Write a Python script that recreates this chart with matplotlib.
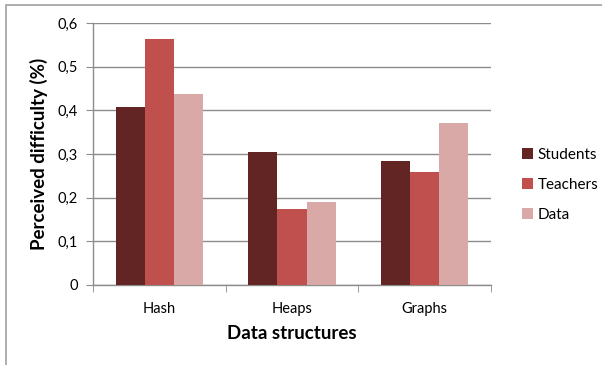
import matplotlib
matplotlib.use("Agg")
import matplotlib.pyplot as plt
import numpy as np
from matplotlib.patches import Rectangle

categories = ["Hash", "Heaps", "Graphs"]
series_names = ["Students", "Teachers", "Data"]
students = [0.408, 0.305, 0.285]
teachers = [0.564, 0.173, 0.259]
data = [0.437, 0.191, 0.371]
y_ticks = [0, 0.1, 0.2, 0.3, 0.4, 0.5, 0.6]
y_tick_labels = ["0", "0,1", "0,2", "0,3", "0,4", "0,5", "0,6"]

colors = ["#632523", "#C0504D", "#D9A9A8"]
grid_col = "#8C8C8C"

plt.rcParams["font.family"] = ["Lato", "DejaVu Sans"]

fig = plt.figure(figsize=(6.02, 3.65), dpi=100)
fig.patches.append(Rectangle((6 / 602, -0.05), 1.2, (365 - 5) / 365 + 0.05,
                             transform=fig.transFigure, fill=False,
                             edgecolor="#A0A0A0", linewidth=1.2))

ax = fig.add_axes([93 / 602, 80 / 365, 398 / 602, 262 / 365])
x = np.arange(len(categories))
w = 0.22
for i, (vals, name) in enumerate(zip([students, teachers, data], series_names)):
    ax.bar(x + (i - 1) * w, vals, width=w, color=colors[i], label=name,
           zorder=3, linewidth=0)

ax.set_xlim(-0.5, len(categories) - 0.5)
ax.set_ylim(0, 0.6)
ax.set_yticks(y_ticks)
ax.set_yticklabels(y_tick_labels, fontsize=10.5)
ax.yaxis.grid(True, color=grid_col, linewidth=1, zorder=0)
ax.set_xticks(x)
ax.set_xticklabels(categories, fontsize=10.5)
ax.set_xticks(np.arange(len(categories) + 1) - 0.5, minor=True)
ax.tick_params(axis="x", which="major", length=0, pad=12)
ax.tick_params(axis="x", which="minor", length=5, color=grid_col, direction="out")
ax.tick_params(axis="y", length=5, color=grid_col, direction="out", pad=6)
for s in ["top", "right"]:
    ax.spines[s].set_visible(False)
for s in ["left", "bottom"]:
    ax.spines[s].set_color(grid_col)
    ax.spines[s].set_linewidth(1)

ax.set_xlabel("Data structures", fontsize=13.5, fontweight="bold", labelpad=7)
ax.set_ylabel("Perceived difficulty (%)", fontsize=13.5, fontweight="bold", labelpad=7)

leg = fig.legend(loc="center left", bbox_to_anchor=(514 / 602, (365 - 185) / 365),
                 frameon=False, fontsize=11, handlelength=0.75, handleheight=0.75,
                 handletextpad=0.3, labelspacing=1.05, borderpad=0)

fig.savefig("out.png", dpi=100)
